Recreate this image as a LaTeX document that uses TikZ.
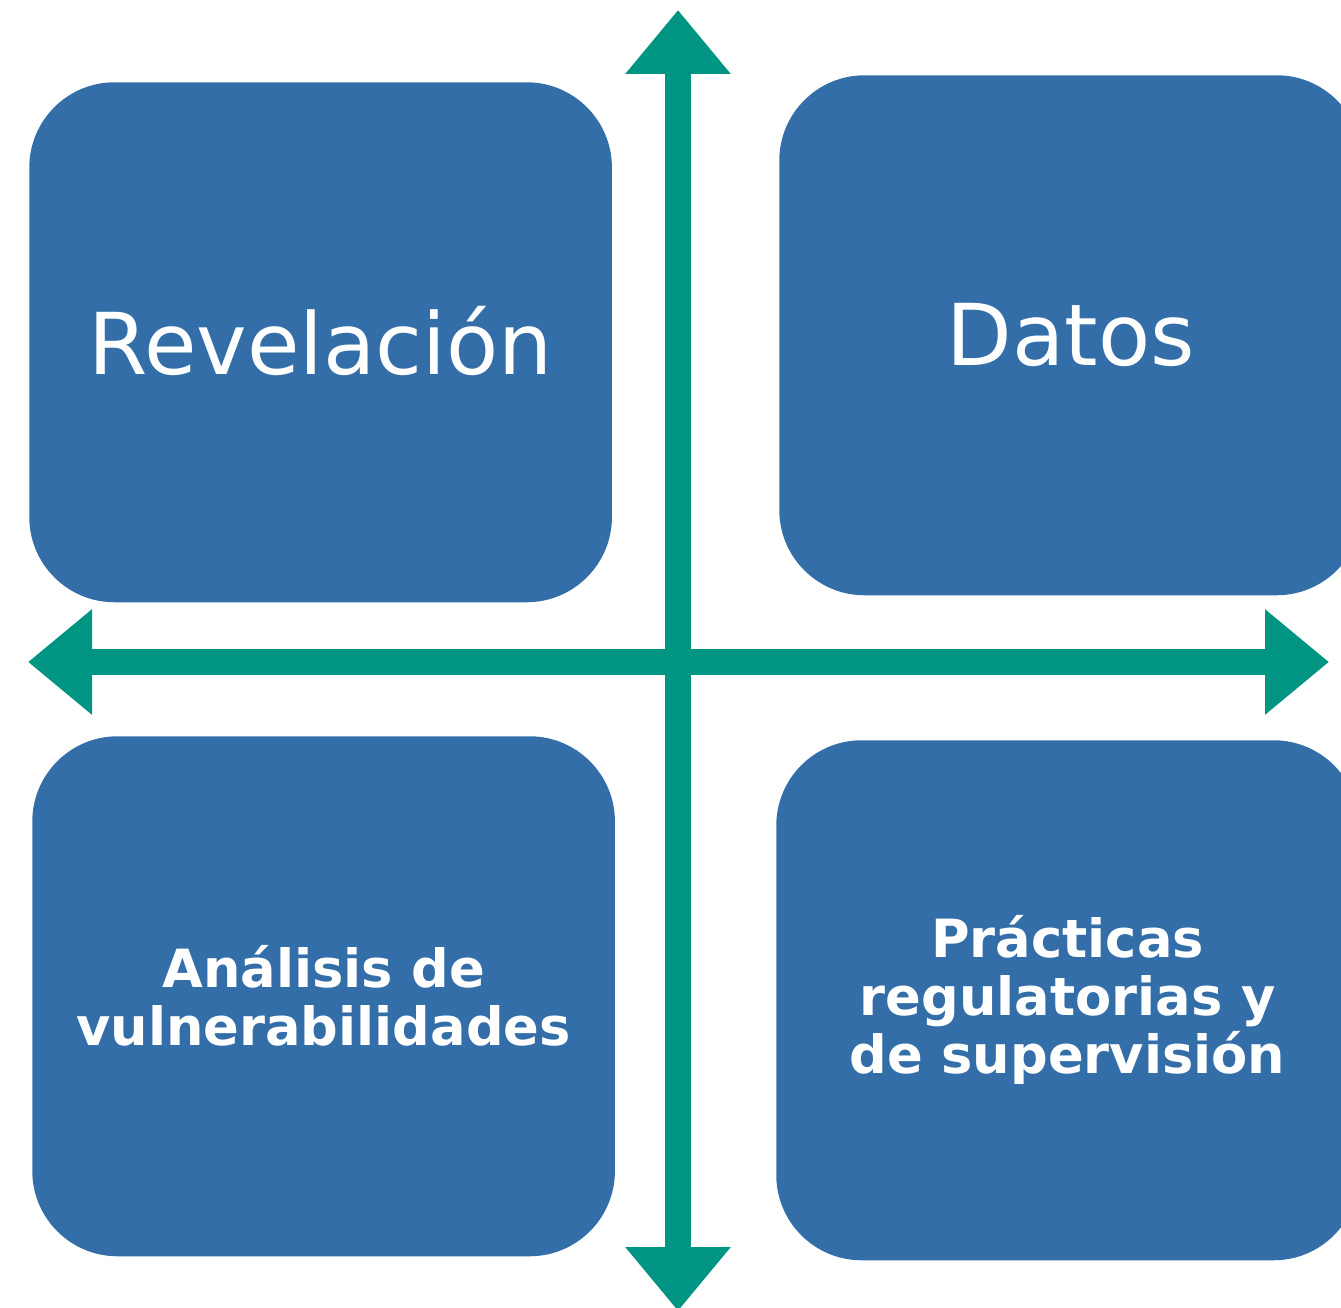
\documentclass[tikz,border=0pt]{standalone}
\usepackage{fontspec}
\setmainfont{DejaVu Sans}
\usetikzlibrary{arrows.meta}
\definecolor{boxblue}{RGB}{51,110,168}
\definecolor{axisgreen}{RGB}{0,148,131}
\begin{document}
\begin{tikzpicture}[x=0.75pt,y=-0.75pt,
  quad/.style={fill=boxblue, rounded corners=64pt, minimum width=437pt, minimum height=390pt,
    text=white, align=center, inner sep=0pt, anchor=north west},
  big/.style={font=\fontsize{64}{77}\selectfont},
  small/.style={font=\bfseries\fontsize{39.5}{43.5}\selectfont},
  axis/.style={draw=axisgreen, line width=19.5pt,
    {Triangle[width=76pt,length=48pt]}-{Triangle[width=76pt,length=48pt]}}]
\useasboundingbox (0,0) rectangle (1341,1308);
\clip (0,0) rectangle (1341,1308);
\node[quad, big] (rev) at (29,82) {\raisebox{3pt}{Revelación}};
\node[quad, big] (dat) at (779,75) {\raisebox{2pt}{Datos}};
\node[quad, small] (ana) at (32,736) {Análisis de\\vulnerabilidades};
\node[quad, small] (pra) at (776,740) {Prácticas\\regulatorias y\\de supervisión};
\coordinate (top) at (678,10);
\coordinate (bot) at (678,1311);
\coordinate (lft) at (28,662);
\coordinate (rgt) at (1329,662);
\draw[axis] (lft) -- (rgt);
\draw[axis] (top) -- (bot);
\end{tikzpicture}
\end{document}
